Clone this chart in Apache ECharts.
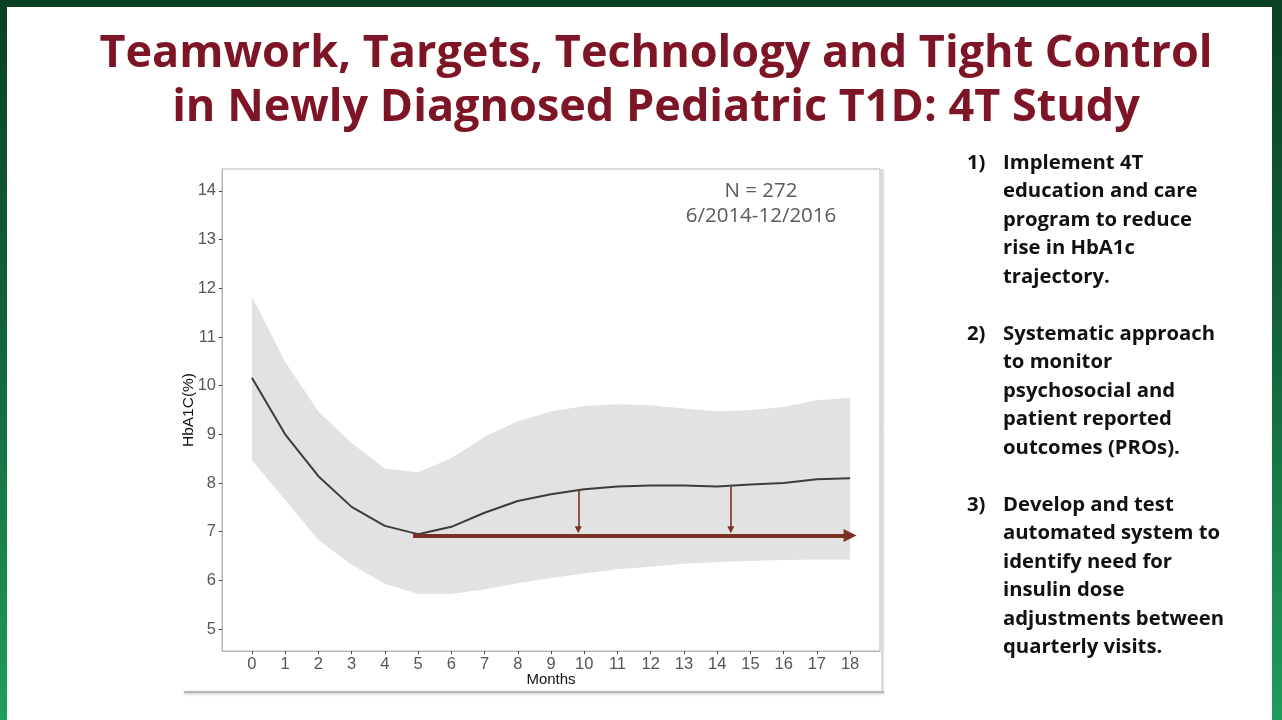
<!DOCTYPE html>
<html><head><meta charset="utf-8">
<script src="https://cdn.jsdelivr.net/npm/echarts@6/dist/echarts.min.js"></script>
<style>
html,body{margin:0;padding:0;width:1282px;height:720px;overflow:hidden;background:linear-gradient(180deg,#0a3f24 0%,#13673c 50%,#1f9d5b 100%);}
#slide{position:absolute;left:7px;top:7px;width:1265px;height:713px;background:#fff;}
#chart{position:absolute;left:0;top:0;width:1282px;height:720px;}
</style></head><body><div id="slide"></div><div id="chart"></div>
<script>
// ---- data ----
const months = [0,1,2,3,4,5,6,7,8,9,10,11,12,13,14,15,16,17,18];
const meanA1c = [10.16,9.00,8.14,7.51,7.12,6.95,7.10,7.39,7.63,7.77,7.87,7.93,7.95,7.95,7.93,7.97,8.00,8.08,8.10];
const upperBand = [11.83,10.49,9.47,8.82,8.30,8.22,8.51,8.95,9.27,9.47,9.58,9.62,9.60,9.53,9.47,9.50,9.56,9.70,9.75];
const lowerBand = [8.47,7.65,6.83,6.32,5.93,5.72,5.72,5.82,5.94,6.05,6.14,6.23,6.28,6.34,6.38,6.40,6.42,6.43,6.43];
const xTicks = [0,1,2,3,4,5,6,7,8,9,10,11,12,13,14,15,16,17,18];
const yTicks = [5,6,7,8,9,10,11,12,13,14];
// target arrow (horizontal) and gap arrows (vertical)
const targetLevel = 6.92;
const targetStart = 4.85;
const targetEnd = 18.0;
const gapMonths = [9.82, 14.41];
const gapTop = [7.87, 7.93];
const gapBottom = 7.04;

const titleLines = ['Teamwork, Targets, Technology and Tight Control','in Newly Diagnosed Pediatric T1D: 4T Study'];
const noteLines = ['N = 272','6/2014-12/2016'];
const itemNumbers = ['1)','2)','3)'];
const itemLines = [
  ['Implement 4T','education and care','program to reduce','rise in HbA1c','trajectory.'],
  ['Systematic approach','to monitor','psychosocial and','patient reported','outcomes (PROs).'],
  ['Develop and test','automated system to','identify need for','insulin dose','adjustments between','quarterly visits.']
];

// ---- chart ----
const chart = echarts.init(document.getElementById('chart'), null, {renderer:'canvas'});
const arrowColor = '#7a3323';
const itemCenters = [163, 334, 505];
const lh = 28.5;
const axisFont = '"Liberation Sans", Arial, sans-serif';

const graphics = [];
titleLines.forEach((t,i)=>{
  graphics.push({type:'text', x:656, y:[54,108][i], silent:true,
    style:{text:t, fill:'#7d1526', font:'bold 45px "Open Sans", sans-serif', align:'center', verticalAlign:'middle'}});
});
noteLines.forEach((t,i)=>{
  graphics.push({type:'text', x:761, y:[191,216][i], silent:true,
    style:{text:t, fill:'#5a5a5a', font:'20.5px "Open Sans", sans-serif', align:'center', verticalAlign:'middle'}});
});
itemNumbers.forEach((n,i)=>{
  graphics.push({type:'text', x:967, y:itemCenters[i]-lh/2, silent:true,
    style:{text:n, fill:'#111', font:'bold 20.3px "Open Sans", sans-serif', lineHeight:lh, align:'left', verticalAlign:'top'}});
  graphics.push({type:'text', x:1003, y:itemCenters[i]-lh/2, silent:true,
    style:{text:itemLines[i].join('\n'), fill:'#111', font:'bold 20.3px "Open Sans", sans-serif', lineHeight:lh, align:'left', verticalAlign:'top'}});
});
// figure frame (bottom and right edge of the pasted plot image)
graphics.push({type:'line', silent:true, shape:{x1:184,y1:692,x2:884,y2:692},
  style:{stroke:'#a8a8a8', lineWidth:1.5, shadowBlur:3, shadowColor:'rgba(0,0,0,0.35)', shadowOffsetY:1}});
graphics.push({type:'line', silent:true, shape:{x1:882,y1:169,x2:882,y2:692},
  style:{stroke:'#c4c4c4', lineWidth:1, shadowBlur:2, shadowColor:'rgba(0,0,0,0.25)', shadowOffsetX:1}});

const markData = [
  [{coord:[targetStart,targetLevel], symbolSize:0},
   {coord:[targetEnd,targetLevel], symbolSize:13, lineStyle:{width:4}}]
];
gapMonths.forEach((m,i)=>{
  markData.push([{coord:[m,gapTop[i]], symbolSize:0},
    {coord:[m,gapBottom], symbolSize:7, lineStyle:{width:1.6}}]);
});

chart.setOption({
  animation:false,
  backgroundColor:'transparent',
  graphic:graphics,
  grid:{left:222, top:169, right:402, bottom:69, show:true, borderColor:'#b5b5b5', borderWidth:1, backgroundColor:'transparent'},
  xAxis:{type:'value', min:-0.9, max:18.9,
    name:'Months', nameLocation:'middle', nameGap:21, nameMoveOverlap:false,
    nameTextStyle:{color:'#111', fontSize:15, fontFamily:axisFont},
    axisLine:{show:true, onZero:false, lineStyle:{color:'#b5b5b5'}},
    axisTick:{show:true, length:3, lineStyle:{color:'#444'}, customValues:xTicks},
    axisLabel:{color:'#555', fontSize:16.5, margin:5, fontFamily:axisFont, customValues:xTicks},
    splitLine:{show:false}},
  yAxis:{type:'value', min:4.55, max:14.45,
    name:'HbA1C(%)', nameLocation:'middle', nameGap:25, nameRotate:90, nameMoveOverlap:false,
    nameTextStyle:{color:'#111', fontSize:15.5, fontFamily:axisFont},
    axisLine:{show:true, onZero:false, lineStyle:{color:'#b5b5b5'}},
    axisTick:{show:true, length:3, lineStyle:{color:'#444'}, customValues:yTicks},
    axisLabel:{color:'#555', fontSize:16.5, margin:6, fontFamily:axisFont, customValues:yTicks},
    splitLine:{show:false}},
  series:[
    {type:'custom', name:'band', silent:true,
      data:months.map((m,i)=>[m, lowerBand[i], upperBand[i]]),
      encode:{x:0, y:[1,2]},
      renderItem:function(params, api){
        if (params.dataIndex !== 0) return null;
        const pts = [];
        for (let i=0;i<months.length;i++) pts.push(api.coord([months[i], upperBand[i]]));
        for (let i=months.length-1;i>=0;i--) pts.push(api.coord([months[i], lowerBand[i]]));
        return {type:'polygon', shape:{points:pts}, style:{fill:'#e2e2e2'}};
      }},
    {type:'line', name:'mean', data:months.map((m,i)=>[m, meanA1c[i]]),
      showSymbol:false, symbol:'none', lineStyle:{color:'#3c3c3c', width:2}, silent:true,
      markLine:{silent:true, symbol:['none','triangle'], label:{show:false},
        lineStyle:{color:arrowColor, type:'solid', width:4},
        itemStyle:{color:arrowColor},
        emphasis:{disabled:true},
        data:markData}}
  ]
});
</script></body></html>
